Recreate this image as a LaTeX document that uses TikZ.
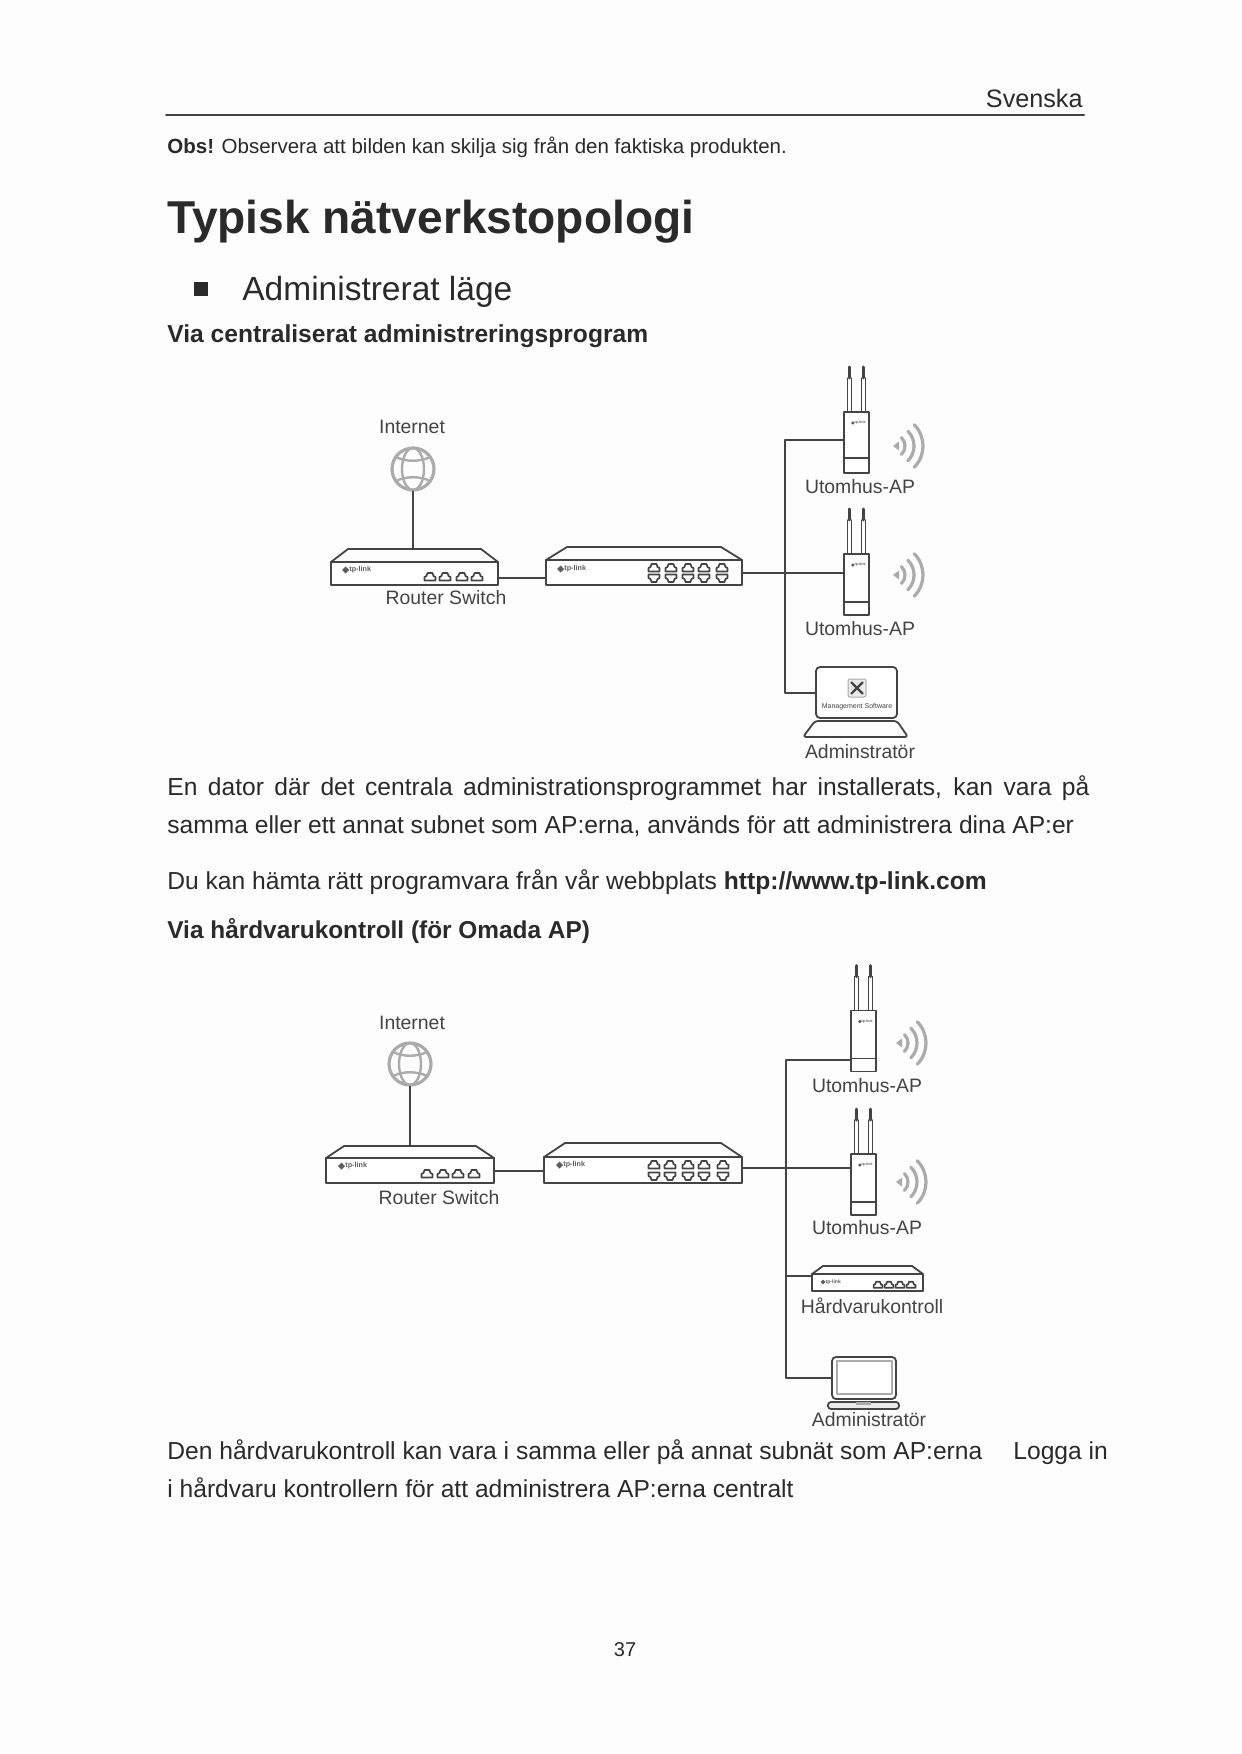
\documentclass[tikz,border=0pt]{standalone}
\usepackage{fontspec}
\setmainfont{Liberation Sans}
\usetikzlibrary{calc}
\definecolor{pagecol}{HTML}{FDFDFD}
\definecolor{inkcol}{HTML}{2A2A2A}
\definecolor{wirecol}{HTML}{444444}
\definecolor{softcol}{HTML}{ABABAB}
\def\px{0.5pt}
\tikzset{
  bodytxt/.style={anchor=base west,inner sep=0pt,text=inkcol,font=\fontsize{12.3}{14}\selectfont},
  labeltxt/.style={anchor=center,inner sep=0pt,text=wirecol,font=\fontsize{9.7}{12}\selectfont},
  wire/.style={draw=wirecol,line width=1pt},
  devline/.style={draw=wirecol,line width=0.9pt},
  softline/.style={draw=softcol,line width=1.6pt},
  unitbox/.style={devline,fill=white,rectangle,inner sep=0pt,outer sep=0pt},
  apbody/.style={unitbox,minimum width=25*\px,minimum height=61*\px},
  portup/.pic={\draw[devline,line width=0.85pt] (-5.5,3.5) -- (-5.5,0) -- (-3.5,-1) -- (-2.5,-4) -- (2.5,-4) -- (3.5,-1) -- (5.5,0) -- (5.5,3.5) -- cycle;},
  tplogo/.pic={
    \fill[softcol!55!black] (-1.5,-3.5) -- (2,0) -- (-1.5,3.5) -- (-5,0) -- cycle;
    \node[inner sep=0pt,anchor=west,transform shape,text=softcol!55!black,font=\fontsize{3.6}{4}\selectfont\bfseries] (logotxt) at (2,0) {tp-link};
  },
  wifisign/.pic={
    \fill[softcol] (0,0) -- (6,-4.5) -- (6,4.5) -- cycle;
    \draw[softline] (0,0) ++(-45:12) arc (-45:45:12);
    \draw[softline] (0,0) ++(-45:21) arc (-45:45:21);
    \draw[softline] (0,0) ++(-45:30) arc (-45:45:30);
  },
  globelines/.pic={
    \draw[softline,line width=1.2pt] (0,0) ellipse (11 and 21);
    \draw[softline,line width=1.2pt] (-17,-12) .. controls (-7,-7) and (7,-7) .. (17,-12);
    \draw[softline,line width=1.2pt] (-17,12) .. controls (-7,7) and (7,7) .. (17,12);
  },
  antennapair/.pic={
    \foreach \antx in {-7,7} {
      \draw[devline,line width=0.6pt] (\antx-2,0) -- (\antx-2,-34) (\antx+2,0) -- (\antx+2,-34);
      \draw[devline,line width=1.5pt] (\antx,-45) -- (\antx,-34);
    }
  }
}
% one box with its sloped lid
\newcommand{\netbox}[6]{
  \node[unitbox,minimum width=#3*\px,minimum height=#4*\px] (#1) at (#2) {};
  \draw[devline] (#1.north west) -- ++(#5,-#6) -- ($(#1.north east)+(-#5,-#6)$) -- (#1.north east);
}
% one outdoor AP
\newcommand{\apunit}[3]{
  \node[apbody] (#1) at (#2) {};
  \draw[devline] ($(#1.south west)+(0,-#3)$) -- ($(#1.south east)+(0,-#3)$);
  \pic at (#1.north) {antennapair};
  \pic[scale=0.5] (#1logo) at ($(#1.north)+(-3,11)$) {tplogo};
}
\begin{document}
\begin{tikzpicture}[x=\px,y=-\px,line cap=round,line join=round]
  \useasboundingbox[fill=pagecol] (0,0) rectangle (1241,1754);
  % page head
  \node[bodytxt,anchor=base east,font=\fontsize{12.6}{14}\selectfont] (pageHead) at (1083,108) {Svenska};
  \draw[wirecol,line width=1pt] (166,115) -- (1084,115);
  \node[bodytxt,font=\fontsize{10.25}{13}\selectfont] (obsNote) at (167,154) {\textbf{Obs!} Observera att bilden kan skilja sig från den faktiska produkten.};
  \node[bodytxt,font=\fontsize{23.05}{26}\selectfont\bfseries] (mainTitle) at (167,234) {Typisk nätverkstopologi};
  \fill[inkcol] (194,282) rectangle (208,296);
  \node[bodytxt,font=\fontsize{16.75}{18}\selectfont] (modeTitle) at (242,301) {Administrerat läge};
  \node[bodytxt,font=\fontsize{12.3}{14}\selectfont\bfseries] (viaProgram) at (167,343) {Via centraliserat administreringsprogram};

  % first network
  \node[labeltxt] (netTextA) at (412,427) {Internet};
  \node[circle,softline,minimum size=42*\px,inner sep=0pt] (globeA) at (413,469) {};
  \pic at (globeA) {globelines};
  \netbox{routerA}{414.5,573.5}{167}{23}{17}{13}
  \netbox{switchA}{644,572.5}{196}{25}{21}{13}
  \coordinate (routerAtop) at (413,549);
  \draw[wire] (globeA.south) -- (routerAtop);
  \pic (routerAlogo) at (347,570) {tplogo};
  \pic (switchAlogo) at (562,569) {tplogo};
  \foreach \portx in {430,445,462,477} \pic at (\portx,577) {portup};
  \foreach \portx in {654,671,688,704,722} {
    \pic at (\portx,568) {portup};
    \pic[yscale=-1] at (\portx,578) {portup};
  }
  \node[labeltxt] (routerTextA) at (446,598) {Router Switch};
  \draw[wire] (routerA.-3) -- (routerA.-3 -| switchA.west);
  \coordinate (busMidA) at (785,572.5);
  \apunit{apA}{856.5,442.5}{15}
  \apunit{apB}{856.5,584.5}{13}
  \pic at (893,446) {wifisign};
  \pic at (893,575) {wifisign};
  \node[labeltxt] (apTextA) at (860,487) {Utomhus-AP};
  \node[labeltxt] (apTextB) at (860,629) {Utomhus-AP};
  \node[unitbox,draw=wirecol,rounded corners=2pt,minimum width=81*\px,minimum height=51*\px] (screenA) at (856.5,692.5) {};
  \node[rectangle,draw=softcol,fill=softcol!25,rounded corners=1pt,line width=0.5pt,minimum size=18*\px] (iconA) at (857,688) {};
  \draw[wirecol,line width=1.1pt] (iconA.north west) ++(4,4) -- ($(iconA.south east)+(-4,-4)$);
  \draw[wirecol,line width=1.1pt] (iconA.north east) ++(-4,4) -- ($(iconA.south west)+(4,-4)$);
  \node[inner sep=0pt,text=wirecol,font=\fontsize{3.5}{4}\selectfont] (softTextA) at (857,707) {Management Software};
  \draw[devline,rounded corners=1.5pt] (815,721) -- (897,721) -- (908,737) -- (803,737) -- cycle;
  \node[labeltxt] (adminTextA) at (860,752) {Adminstratör};
  \draw[wire] (switchA.east) -- (busMidA -| apB.west);
  \draw[wire] (apA.170) -| (busMidA) |- (screenA.west);

  % running text
  \node[bodytxt] (paraOne) at (167,795) {\makebox[461pt][s]{En dator där det centrala administrationsprogrammet har installerats, kan vara på}};
  \node[bodytxt] (paraTwo) at (167,833) {samma eller ett annat subnet som AP:erna, används för att administrera dina AP:er};
  \node[bodytxt] (paraThree) at (167,889) {Du kan hämta rätt programvara från vår webbplats \textbf{http://www.tp-link.com}};
  \node[bodytxt,font=\fontsize{12.2}{14}\selectfont\bfseries] (viaHardware) at (167,938) {Via hårdvarukontroll (för Omada AP)};

  % second network
  \node[labeltxt] (netTextB) at (412,1023) {Internet};
  \node[circle,softline,minimum size=42*\px,inner sep=0pt] (globeB) at (410,1064) {};
  \pic at (globeB) {globelines};
  \netbox{routerB}{410,1170.5}{168}{25}{18}{12}
  \netbox{switchB}{643,1170}{198}{26}{21}{14}
  \coordinate (routerBtop) at (410,1146);
  \draw[wire] (globeB.south) -- (routerBtop);
  \pic (routerBlogo) at (343,1166) {tplogo};
  \pic (switchBlogo) at (561,1165) {tplogo};
  \foreach \portx in {427,443,458,474} \pic at (\portx,1174) {portup};
  \foreach \portx in {654,670,688,704,723} {
    \pic at (\portx,1165) {portup};
    \pic[yscale=-1] at (\portx,1176) {portup};
  }
  \node[labeltxt] (routerTextB) at (439,1198) {Router Switch};
  \draw[wire] (routerB.east) -- (routerB.east -| switchB.west);
  \coordinate (busMidB) at (786,1168);
  \apunit{apC}{863.5,1041}{13}
  \apunit{apD}{863.5,1184.5}{13}
  \pic at (896,1043) {wifisign};
  \pic at (896,1182) {wifisign};
  \node[labeltxt] (apTextC) at (867,1086) {Utomhus-AP};
  \node[labeltxt] (apTextD) at (867,1228) {Utomhus-AP};
  \netbox{ctrlBox}{867.5,1282.5}{111}{17}{11}{8}
  \pic[scale=0.7] (ctrlLogo) at (824,1282) {tplogo};
  \foreach \portx in {878,889,900,911} \pic[scale=0.8] at (\portx,1285) {portup};
  \node[labeltxt] (ctrlText) at (872,1306) {Hårdvarukontroll};
  \node[unitbox,draw=wirecol,rounded corners=2pt,minimum width=64*\px,minimum height=42*\px] (screenB) at (864,1378) {};
  \node[rectangle,draw=softcol,line width=1pt,minimum width=55*\px,minimum height=33*\px,inner sep=0pt] (panelB) at (864,1377.5) {};
  \draw[devline,rounded corners=1.5pt,fill=softcol!25] (828,1402) -- (899,1402) -- (899,1409) -- (828,1409) -- cycle;
  \fill[softcol] (856,1402) rectangle (871,1405);
  \node[labeltxt] (adminTextB) at (869,1420) {Administratör};
  \draw[wire] (switchB.east |- busMidB) -- (busMidB -| apD.west);
  \draw[wire] (apC.236) -| (busMidB) |- (screenB.west);
  \draw[wire] (ctrlBox.north west |- 0,1276) -- (busMidB |- 0,1276);

  % closing text
  \node[bodytxt] (paraFour) at (167,1459) {Den hårdvarukontroll kan vara i samma eller på annat subnät som AP:erna};
  \node[bodytxt] (paraFourEnd) at (1013,1459) {Logga in};
  \node[bodytxt] (paraFive) at (167,1497) {i hårdvaru kontrollern för att administrera AP:erna centralt};
  \node[bodytxt,anchor=base,font=\fontsize{10}{12}\selectfont] (pageNumber) at (625,1656) {37};
\end{tikzpicture}
\end{document}
